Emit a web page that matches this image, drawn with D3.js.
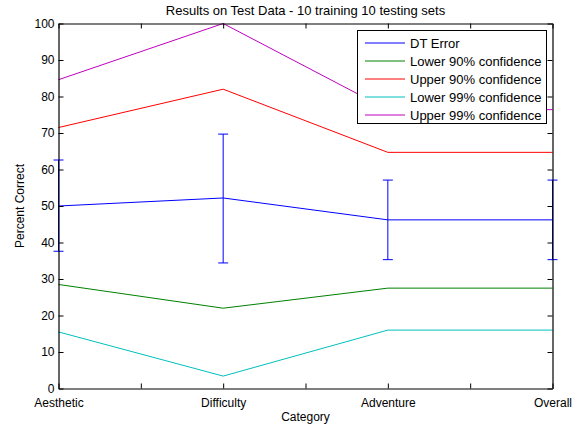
<!DOCTYPE html>
<html><head><meta charset="utf-8">
<script src="https://cdn.jsdelivr.net/npm/d3@7"></script>
<style>body{margin:0;background:#fff}svg{display:block;font-family:"Liberation Sans",Arial,Helvetica,sans-serif}</style>
</head><body>
<script>
const categories = ["Aesthetic", "Difficulty", "Adventure", "Overall"];
const dtError = [50, 52.2, 46.2, 46.2];
const errLow = [37.6, 34.4, 35.3, 35.3];
const errHigh = [62.6, 69.7, 57.1, 57.1];
const lower90 = [28.5, 22, 27.5, 27.5];
const upper90 = [71.5, 82, 64.7, 64.7];
const lower99 = [15.5, 3.4, 16, 16];
const upper99 = [84.6, 100, 76.4, 76.4];
const yTicks = [0, 10, 20, 30, 40, 50, 60, 70, 80, 90, 100];
const xTicks = [1, 1.5, 2, 2.5, 3, 3.5, 4];
const seriesNames = ["DT Error", "Lower 90% confidence", "Upper 90% confidence", "Lower 99% confidence", "Upper 99% confidence"];
const seriesColors = ["#0000ff", "#008000", "#ff0000", "#00bfbf", "#bf00bf"];
const seriesData = [dtError, lower90, upper90, lower99, upper99];

(function () {
const W = 580, H = 430;
const L = 58.5, R = 552.5, T = 23.5, B = 388.5;
const svg = d3.select("body").append("svg").attr("width", W).attr("height", H);
const x = d3.scaleLinear().domain([1, 4]).range([L, R]);
const y = d3.scaleLinear().domain([0, 100]).range([B, T]);
const xLabel = v => Number.isInteger(v) ? categories[v - 1] : "";

const g = svg.append("g");
g.append("rect").attr("x", L).attr("y", T).attr("width", R - L).attr("height", B - T).attr("fill", "#fff");

const line = d3.line().x((d, i) => x(i + 1)).y(d => y(d));
seriesData.forEach((s, k) => {
  g.append("path").datum(s).attr("d", line).attr("fill", "none")
    .attr("stroke", seriesColors[k]).attr("stroke-width", 1);
});
const cap = 5;
dtError.forEach((d, i) => {
  const cx = x(i + 1);
  const eg = g.append("g").attr("stroke", "#0000ff").attr("stroke-width", 1).attr("fill", "none");
  eg.append("line").attr("x1", cx).attr("x2", cx).attr("y1", y(errLow[i])).attr("y2", y(errHigh[i]));
  eg.append("line").attr("x1", cx - cap).attr("x2", cx + cap).attr("y1", y(errLow[i])).attr("y2", y(errLow[i]));
  eg.append("line").attr("x1", cx - cap).attr("x2", cx + cap).attr("y1", y(errHigh[i])).attr("y2", y(errHigh[i]));
});

const fs = "12px";
const ax = svg.append("g");
const axB = ax.append("g").attr("transform", `translate(0,${B})`)
  .call(d3.axisBottom(x).tickValues(xTicks).tickFormat(xLabel).tickSizeInner(-5).tickSizeOuter(0).tickPadding(9.5));
const axT = ax.append("g").attr("transform", `translate(0,${T})`)
  .call(d3.axisTop(x).tickValues(xTicks).tickFormat("").tickSizeInner(-5).tickSizeOuter(0));
const axL = ax.append("g").attr("transform", `translate(${L},0)`)
  .call(d3.axisLeft(y).tickValues(yTicks).tickSizeInner(-5).tickSizeOuter(0).tickPadding(4));
const axR = ax.append("g").attr("transform", `translate(${R},0)`)
  .call(d3.axisRight(y).tickValues(yTicks).tickFormat("").tickSizeInner(-5).tickSizeOuter(0));
[axB, axT, axL, axR].forEach(a => {
  a.selectAll(".domain").attr("stroke", "#000").attr("stroke-width", 1.2);
  a.selectAll(".tick line").attr("stroke", "#000");
  a.selectAll("text").attr("font-size", fs).attr("fill", "#000").attr("font-family", "Liberation Sans, Arial, sans-serif");
});
axL.selectAll(".tick text").attr("dy", "0.3em");
axB.selectAll(".tick text").attr("dy", "0.71em");

svg.append("text").attr("x", (L + R) / 2).attr("y", 15).attr("text-anchor", "middle")
  .attr("font-size", "13px").text("Results on Test Data - 10 training 10 testing sets");
svg.append("text").attr("x", (L + R) / 2).attr("y", 421).attr("text-anchor", "middle")
  .attr("font-size", "12px").text("Category");
svg.append("text").attr("transform", `translate(24,${(T + B) / 2}) rotate(-90)`).attr("text-anchor", "middle")
  .attr("font-size", "12px").text("Percent Correct");

const lx = 357.5, ly = 30.5, lw = 189, lh = 93;
const lg = svg.append("g");
lg.append("rect").attr("x", lx).attr("y", ly).attr("width", lw).attr("height", lh)
  .attr("fill", "#fff").attr("stroke", "#000").attr("stroke-width", 1);
seriesNames.forEach((n, k) => {
  const yy = 43 + k * 18;
  lg.append("line").attr("x1", 365).attr("x2", 405).attr("y1", yy).attr("y2", yy)
    .attr("stroke", seriesColors[k]).attr("stroke-width", 1);
  lg.append("text").attr("x", 410).attr("y", yy).attr("dy", "0.35em").attr("font-size", "13px").text(n);
});
})();
</script>
</body></html>
